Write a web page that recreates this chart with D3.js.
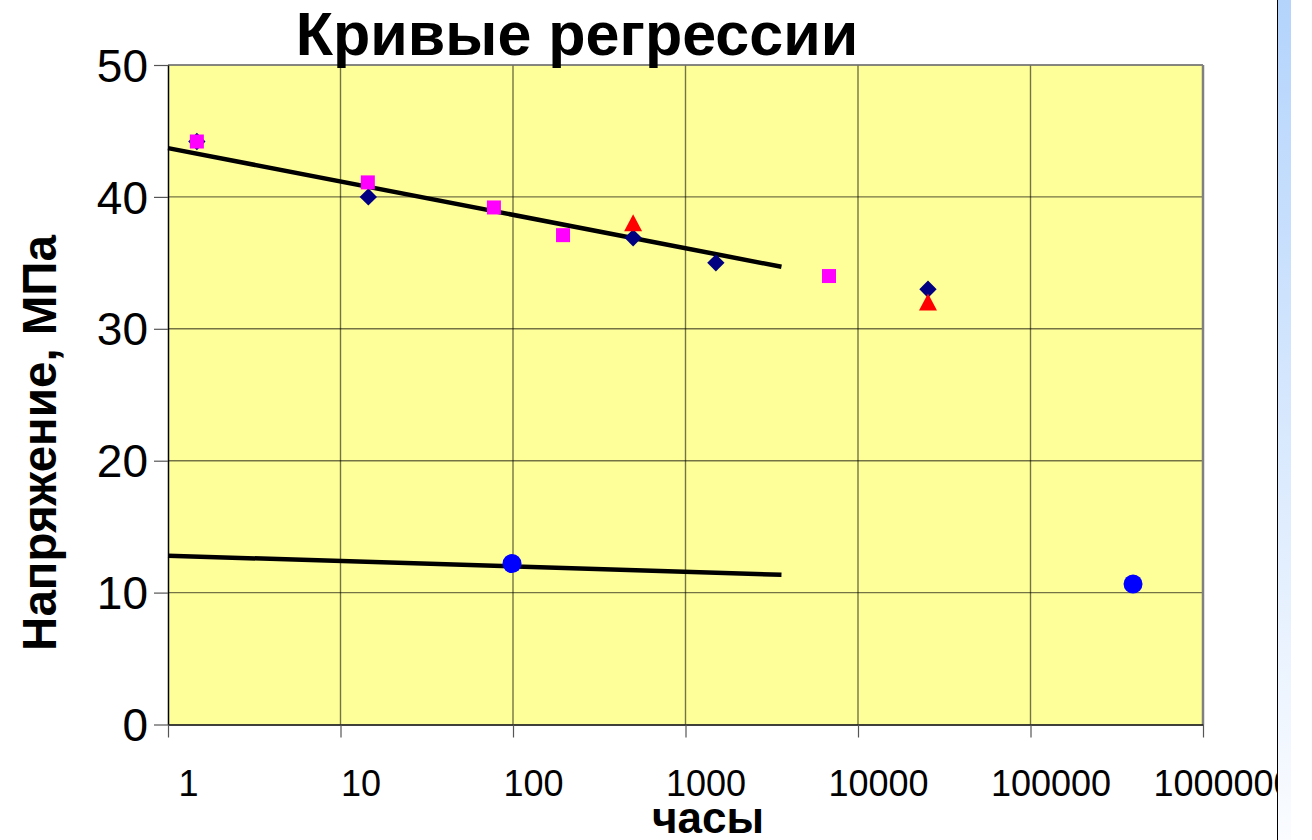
<!DOCTYPE html>
<html><head><meta charset="utf-8">
<script src="https://cdn.jsdelivr.net/npm/d3@7"></script>
<style>body{margin:0;background:#fff;}svg{display:block;font-family:"Liberation Sans",Arial,sans-serif;}</style>
</head><body>
<svg id="c" width="1312" height="840"></svg>
<script>
// ---- data ----
const title = "Кривые регрессии";
const yTitle = "Напряжение, МПа";
const xTitle = "часы";
const xTicks = [1, 10, 100, 1000, 10000, 100000, 1000000];
const xTickLabels = ["1", "10", "100", "1000", "10000", "100000", "1000000"];
const yTicks = [0, 10, 20, 30, 40, 50];
const diamondsX = [1.47, 14.5, 497, 1500, 25450];
const diamondsY = [44.2, 40.0, 36.9, 35.0, 33.0];
const squaresX = [1.47, 14.4, 77.5, 195, 6790];
const squaresY = [44.2, 41.1, 39.2, 37.1, 34.0];
const trianglesX = [497, 25450];
const trianglesY = [38.0, 32.0];
const circlesX = [98.7, 393000];
const circlesY = [12.2, 10.65];
const trend1X = [1, 3600];
const trend1Y = [43.7, 34.7];
const trend2X = [1, 3600];
const trend2Y = [12.8, 11.35];

// ---- layout ----
const svg = d3.select("#c");
const L = 168, R = 1203, T = 65, B = 724.5;
const x = d3.scaleLog().domain([1, 1000000]).range([L, R]);
const y = d3.scaleLinear().domain([0, 50]).range([B, T]);

// plot background
svg.append("rect").attr("x", L).attr("y", T).attr("width", R - L).attr("height", B - T)
  .attr("fill", "#ffff99");

// grid lines
svg.append("g").selectAll("line").data(yTicks.slice(1)).join("line")
  .attr("x1", L).attr("x2", R).attr("y1", d => y(d)).attr("y2", d => y(d))
  .attr("stroke", "#000").attr("stroke-opacity", 0.55).attr("stroke-width", 1.4);
svg.append("g").selectAll("line").data(xTicks.slice(1, -1)).join("line")
  .attr("y1", T).attr("y2", B).attr("x1", d => x(d)).attr("x2", d => x(d))
  .attr("stroke", "#000").attr("stroke-opacity", 0.55).attr("stroke-width", 1.4);

// plot frame
svg.append("line").attr("x1", R).attr("x2", R).attr("y1", T).attr("y2", B)
  .attr("stroke", "#808080").attr("stroke-width", 2.5);
svg.append("line").attr("x1", L).attr("x2", R).attr("y1", T).attr("y2", T)
  .attr("stroke", "#808080").attr("stroke-width", 1.5);

// axes
const yAxis = d3.axisLeft(y).tickValues(yTicks).tickSize(14).tickPadding(6).tickSizeOuter(0);
const gy = svg.append("g").attr("transform", `translate(${L},0)`).call(yAxis);
gy.select(".domain").attr("stroke", "#000").attr("stroke-width", 1.5);
gy.selectAll(".tick line").attr("stroke", "#555").attr("stroke-width", 1.2);
gy.selectAll(".tick text").attr("font-size", 46).attr("fill", "#000")
  .attr("font-family", "Liberation Sans, Arial, sans-serif").attr("dy", "0.35em");

const xAxis = d3.axisBottom(x).tickValues(xTicks).tickFormat((d, i) => xTickLabels[i])
  .tickSize(13).tickSizeOuter(0);
const gx = svg.append("g").attr("transform", `translate(0,${B})`).call(xAxis);
gx.select(".domain").attr("stroke", "#000").attr("stroke-width", 1.5);
gx.selectAll(".tick line").attr("stroke", "#555").attr("stroke-width", 1.2);
gx.selectAll(".tick text").attr("font-size", 36).attr("fill", "#000")
  .attr("font-family", "Liberation Sans, Arial, sans-serif")
  .attr("y", 71).attr("dy", 0).attr("dx", 20);

// trend lines
const line = d3.line().x(d => x(d[0])).y(d => y(d[1]));
[[trend1X, trend1Y], [trend2X, trend2Y]].forEach(([xs, ys]) => {
  svg.append("path").datum(xs.map((v, i) => [v, ys[i]])).attr("d", line)
    .attr("fill", "none").attr("stroke", "#000").attr("stroke-width", 4.5);
});

// markers
function pts(xs, ys) { return xs.map((v, i) => [v, ys[i]]); }
svg.append("g").selectAll("path").data(pts(diamondsX, diamondsY)).join("path")
  .attr("d", d3.symbol().type(d3.symbolSquare).size(150))
  .attr("transform", d => `translate(${x(d[0])},${y(d[1])}) rotate(45)`)
  .attr("fill", "#000080");
svg.append("g").selectAll("rect").data(pts(squaresX, squaresY)).join("rect")
  .attr("x", d => x(d[0]) - 7).attr("y", d => y(d[1]) - 7).attr("width", 14).attr("height", 14)
  .attr("fill", "#ff00ff");
svg.append("g").selectAll("path").data(pts(trianglesX, trianglesY)).join("path")
  .attr("d", "M0,-9L9,8L-9,8Z")
  .attr("transform", d => `translate(${x(d[0])},${y(d[1])})`)
  .attr("fill", "#ff0000");
svg.append("g").selectAll("circle").data(pts(circlesX, circlesY)).join("circle")
  .attr("cx", d => x(d[0])).attr("cy", d => y(d[1])).attr("r", 9.5)
  .attr("fill", "#0000ff");

// titles
svg.append("text").attr("x", 577).attr("y", 55).attr("text-anchor", "middle")
  .attr("font-size", 61).attr("font-weight", "bold").text(title);
svg.append("text").attr("transform", "translate(56,443) rotate(-90)").attr("text-anchor", "middle")
  .attr("font-size", 47.5).attr("font-weight", "bold").text(yTitle);
svg.append("text").attr("x", 708).attr("y", 833).attr("text-anchor", "middle")
  .attr("font-size", 44).attr("font-weight", "bold").text(xTitle);

// right side panel
const defs = svg.append("defs");
const grad = defs.append("linearGradient").attr("id", "g1").attr("x1", 0).attr("x2", 0).attr("y1", 0).attr("y2", 1);
grad.append("stop").attr("offset", "0%").attr("stop-color", "#b4d4fc");
grad.append("stop").attr("offset", "100%").attr("stop-color", "#fafcff");
svg.append("rect").attr("x", 1277.5).attr("y", 0).attr("width", 35).attr("height", 840).attr("fill", "#fff");
svg.append("rect").attr("x", 1278).attr("y", 0).attr("width", 13).attr("height", 840).attr("fill", "url(#g1)");
svg.append("line").attr("x1", 1277.5).attr("x2", 1277.5).attr("y1", 0).attr("y2", 840)
  .attr("stroke", "#000").attr("stroke-width", 1);
</script>
</body></html>
